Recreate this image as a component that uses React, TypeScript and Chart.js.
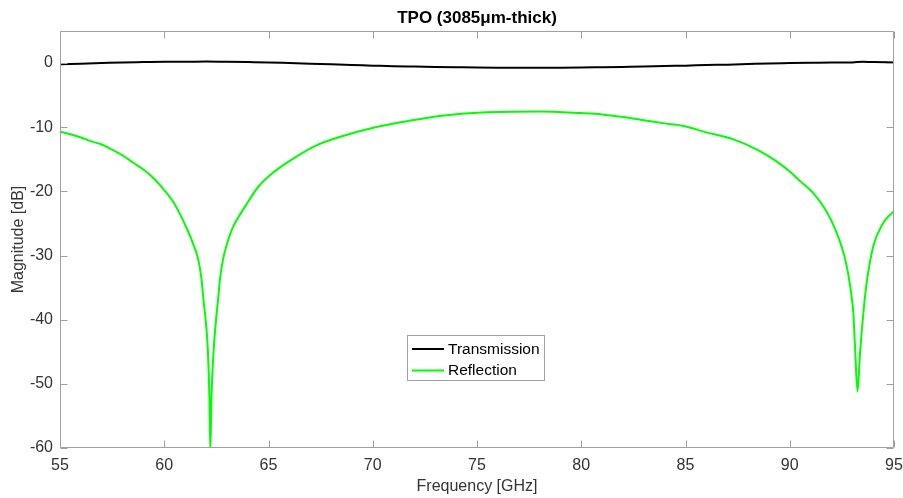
import React, { useEffect, useRef } from "react";
import { Chart, registerables } from "chart.js";

Chart.register(...registerables);

const titleText = "TPO (3085μm-thick)";
const xLabel = "Frequency [GHz]";
const yLabel = "Magnitude [dB]";
const seriesNames = ["Transmission", "Reflection"];
const seriesColors = ["#000000", "#00ff00"];

const xTicks = [55, 60, 65, 70, 75, 80, 85, 90, 95];
const yTicks = [-60, -50, -40, -30, -20, -10, 0];

const transFreq = [55, 56, 57, 58, 59, 60, 61, 62, 63, 64, 65, 66, 67, 68, 69, 70, 71, 72, 73, 74, 75, 76, 77, 78, 79, 80, 81, 82, 83, 84, 85, 86, 87, 88, 89, 90, 91, 92, 93, 93.5, 94, 95];
const transDb = [-0.2, -0.1, 0.0, 0.1, 0.15, 0.2, 0.2, 0.25, 0.2, 0.15, 0.1, 0.0, -0.1, -0.2, -0.3, -0.4, -0.5, -0.55, -0.6, -0.65, -0.7, -0.72, -0.72, -0.72, -0.72, -0.7, -0.65, -0.6, -0.55, -0.45, -0.4, -0.3, -0.25, -0.15, -0.05, 0.0, 0.05, 0.1, 0.1, 0.2, 0.15, 0.1];

const reflFreq = [55, 55.5, 56, 56.5, 57, 57.5, 58, 58.5, 59, 59.5, 60, 60.5, 61.1, 61.4, 61.63, 61.78, 61.88, 62.0, 62.09, 62.17, 62.21, 62.26, 62.37, 62.47, 62.58, 62.68, 62.82, 63.0, 63.28, 63.89, 64.53, 65.33, 66.13, 67.25, 68.53, 70.12, 71.72, 73.32, 75.24, 78, 80, 81, 82, 83, 84, 84.9, 86, 87.3, 88.5, 89.4, 90.0, 90.5, 91.14, 91.7, 92.18, 92.66, 92.9, 93.05, 93.13, 93.25, 93.37, 93.53, 93.69, 94.01, 94.49, 94.73, 95];
const reflDb = [-10.7, -11.1, -11.6, -12.2, -12.7, -13.5, -14.4, -15.5, -16.6, -18.0, -19.8, -22.0, -25.9, -28.3, -30.6, -33.5, -36.9, -40.5, -44.7, -52.5, -60.5, -52.5, -44.7, -40.5, -36.9, -33.5, -30.6, -28.3, -25.7, -22.3, -19.2, -16.8, -15.0, -12.9, -11.4, -10.0, -9.0, -8.2, -7.7, -7.55, -7.8, -8.0, -8.4, -8.9, -9.4, -9.8, -10.8, -11.9, -13.6, -15.4, -16.9, -18.4, -20.3, -22.8, -25.9, -30.6, -34.8, -39.0, -44.2, -51.2, -45.2, -39.0, -34.2, -28.5, -24.9, -23.9, -23.1];

const FONT = "'Liberation Sans', Arial, Helvetica, sans-serif";
const AXIS_GRAY = "#a0a0a0";
const TEXT_COLOR = "#333333";

const decorPlugin = {
  id: "matlabDecor",
  afterDatasetsDraw(chart: any) {
    const { ctx, chartArea: a, scales } = chart;
    const xs = scales.x;
    const ys = scales.y;
    ctx.save();
    ctx.strokeStyle = AXIS_GRAY;
    ctx.lineWidth = 1;
    ctx.beginPath();
    const L = Math.round(a.left) + 0.5;
    const R = Math.round(a.right) - 0.5;
    const T = Math.round(a.top) + 0.5;
    const B = Math.round(a.bottom) - 0.5;
    ctx.rect(L, T, R - L, B - T);
    const tl = 7;
    xTicks.forEach((v) => {
      const px = Math.round(xs.getPixelForValue(v)) + 0.5;
      ctx.moveTo(px, B);
      ctx.lineTo(px, B - tl);
      ctx.moveTo(px, T);
      ctx.lineTo(px, T + tl);
    });
    yTicks.forEach((v) => {
      const py = Math.round(ys.getPixelForValue(v)) + 0.5;
      ctx.moveTo(L, py);
      ctx.lineTo(L + tl, py);
      ctx.moveTo(R, py);
      ctx.lineTo(R - tl, py);
    });
    ctx.stroke();
    ctx.restore();
  },
  afterDraw(chart: any) {
    const { ctx, chartArea: a } = chart;
    const cx = (a.left + a.right) / 2;
    ctx.save();
    ctx.fillStyle = "#000000";
    ctx.textAlign = "center";
    ctx.textBaseline = "middle";
    ctx.font = `bold 17px ${FONT}`;
    ctx.fillText(titleText, cx, 18);
    ctx.fillStyle = TEXT_COLOR;
    ctx.font = `16px ${FONT}`;
    ctx.fillText(xLabel, cx, 487);
    ctx.save();
    ctx.translate(19, (a.top + a.bottom) / 2);
    ctx.rotate(-Math.PI / 2);
    ctx.fillText(yLabel, 0, 0);
    ctx.restore();
    const lx = 407.5, ly = 335.5, lw = 137, lh = 45;
    ctx.fillStyle = "#ffffff";
    ctx.fillRect(lx, ly, lw, lh);
    ctx.strokeStyle = AXIS_GRAY;
    ctx.lineWidth = 1;
    ctx.strokeRect(lx, ly, lw, lh);
    const rows = [349, 370.5];
    seriesNames.forEach((name, i) => {
      ctx.strokeStyle = seriesColors[i];
      ctx.lineWidth = 2;
      ctx.beginPath();
      ctx.moveTo(412, rows[i]);
      ctx.lineTo(444, rows[i]);
      ctx.stroke();
      ctx.fillStyle = "#000000";
      ctx.textAlign = "left";
      ctx.textBaseline = "middle";
      ctx.font = `15.5px ${FONT}`;
      ctx.fillText(name, 448, rows[i] + 0.5);
    });
    ctx.restore();
  },
};

export default function App() {
  const ref = useRef<HTMLCanvasElement | null>(null);
  useEffect(() => {
    document.body.style.margin = "0";
    const canvas = ref.current;
    if (!canvas) return;
    const chart = new Chart(canvas, {
      type: "line",
      data: {
        datasets: [
          {
            label: seriesNames[0],
            data: transFreq.map((f, i) => ({ x: f, y: transDb[i] })),
            borderColor: seriesColors[0],
            borderWidth: 2,
            pointRadius: 0,
            cubicInterpolationMode: "monotone",
            fill: false,
          },
          {
            label: seriesNames[1],
            data: reflFreq.map((f, i) => ({ x: f, y: reflDb[i] })),
            borderColor: seriesColors[1],
            borderWidth: 2,
            pointRadius: 0,
            cubicInterpolationMode: "monotone",
            fill: false,
          },
        ],
      },
      options: {
        animation: false,
        responsive: false,
        devicePixelRatio: 1,
        layout: { padding: { top: 31, right: 0, left: 0, bottom: 0 } },
        plugins: {
          legend: { display: false },
          title: { display: false },
          tooltip: { enabled: false },
        },
        scales: {
          x: {
            type: "linear",
            min: 55,
            max: 95,
            afterBuildTicks: (s: any) => {
              s.ticks = xTicks.map((v) => ({ value: v }));
            },
            afterFit: (s: any) => {
              s.height = 50;
              s.paddingRight = 9;
              s.paddingLeft = 0;
            },
            grid: { display: false, drawTicks: false },
            border: { display: false },
            ticks: {
              padding: 8,
              color: TEXT_COLOR,
              font: { family: FONT, size: 16 },
              maxRotation: 0,
              autoSkip: false,
            },
          },
          y: {
            type: "linear",
            min: -60,
            max: 5,
            afterBuildTicks: (s: any) => {
              s.ticks = yTicks.map((v) => ({ value: v }));
            },
            afterFit: (s: any) => {
              s.width = 60;
              s.paddingTop = 0;
              s.paddingBottom = 0;
            },
            grid: { display: false, drawTicks: false },
            border: { display: false },
            ticks: {
              padding: 7,
              color: TEXT_COLOR,
              font: { family: FONT, size: 16 },
              autoSkip: false,
            },
          },
        },
      },
      plugins: [decorPlugin],
    });
    return () => chart.destroy();
  }, []);
  return (
    <div style={{ width: 903, height: 498, background: "#ffffff" }}>
      <canvas ref={ref} width={903} height={498} style={{ display: "block" }} />
    </div>
  );
}
